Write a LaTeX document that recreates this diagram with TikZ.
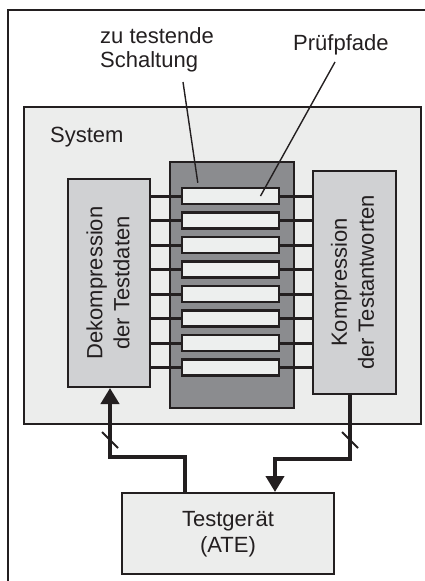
\documentclass[tikz,border=0pt]{standalone}
\usepackage{fontspec}
\setmainfont{Liberation Sans}
\usetikzlibrary{arrows.meta}

\definecolor{ink}{HTML}{231F20}
\definecolor{sysfill}{HTML}{ECEDEC}
\definecolor{unitfill}{HTML}{D0D1D3}
\definecolor{cutfill}{HTML}{8B8C8F}
\definecolor{pathfill}{HTML}{EDEFEE}

\begin{document}
\begin{tikzpicture}[x=1pt,y=-1pt,
  txt/.style={font=\fontsize{22}{24}\selectfont, text=ink, inner sep=0pt},
  box/.style={draw=ink, line width=2pt, inner sep=0pt, anchor=north west},
  scanpath/.style={draw=ink, line width=2.4pt, fill=pathfill, inner sep=0pt,
    minimum width=97pt, minimum height=16pt},
  wire/.style={draw=ink, line width=3pt},
  bus/.style={draw=ink, line width=4pt, -{Triangle[length=16pt, width=18pt]}},
  leader/.style={draw=ink, line width=1.4pt},
  tick/.style={draw=ink, line width=1.8pt}]
\useasboundingbox (0,0) rectangle (425,581);

% outer frame
\draw[ink, line width=2.4pt] (8,581) -- (8,10) -- (425,10);

% system and its blocks
\node[box, fill=sysfill, minimum width=397pt, minimum height=317pt] (sys) at (23,106) {};
\node[txt, anchor=base west] (syslabel) at (50,142.5) {System};

\node[box, fill=cutfill, minimum width=124pt, minimum height=246pt] (cut) at (169,161) {};
\node[box, fill=unitfill, minimum width=82pt, minimum height=208pt] (dek) at (67,178) {};
\node[box, fill=unitfill, minimum width=83pt, minimum height=223pt] (kom) at (312,170) {};

\node[txt, rotate=90, align=center, font=\fontsize{22}{27}\selectfont] (deklabel)
  at ([xshift=-1pt]dek.center) {Dekompression\\der Testdaten};
\node[txt, rotate=90, align=center, font=\fontsize{22}{27}\selectfont] (komlabel)
  at ([xshift=-2pt]kom.center) {Kompression\\der Testantworten};

% scan paths with their wires
\foreach \i in {0,...,7} {
  \node[scanpath] (p\i) at (230.5,{196+24.5*\i}) {};
  \draw[wire] (dek.east |- p\i.west) -- (p\i.west);
  \draw[wire] (p\i.east) -- (kom.west |- p\i.east);
}

% test equipment
\node[box, fill=sysfill, minimum width=212pt, minimum height=81pt] (ate) at (121,492) {};
\node[txt, align=center, font=\fontsize{22}{26}\selectfont] (atelabel)
  at ([yshift=-1pt]ate.center) {Testger\kern1.5pt ät\\(ATE)};

% buses between tester and system
\draw[bus] ([xshift=64pt]ate.north west) -- ++(0,-35) -| ([xshift=43pt]dek.south west);
\draw[bus] ([xshift=38pt]kom.south west) -- ++(0,64) -| ([xshift=154pt]ate.north west);

% bus width marks
\coordinate (m1) at (110,440);
\coordinate (m2) at (350,440);
\draw[tick] ([shift={(-8pt,8pt)}]m1) -- ([shift={(8pt,-8pt)}]m1);
\draw[tick] ([shift={(-8pt,8pt)}]m2) -- ([shift={(8pt,-8pt)}]m2);

% callouts (base anchor of a two-line node sits on its last line)
\node[txt, align=left, anchor=base west] (cutcall) at (100,67) {zu testende\\Schaltung};
\node[txt, anchor=base west] (pathcall) at (293,50) {Prüfpfade};
\coordinate (c1) at ([xshift=83pt, yshift=-15pt]cutcall.base west);
\coordinate (c2) at ([xshift=42pt, yshift=-12pt]pathcall.base west);
\draw[leader] (c1) -- ([xshift=17pt, yshift=4pt]p0.north west);
\draw[leader] (c2) -- ([xshift=30pt]p0.center);
\end{tikzpicture}
\end{document}
